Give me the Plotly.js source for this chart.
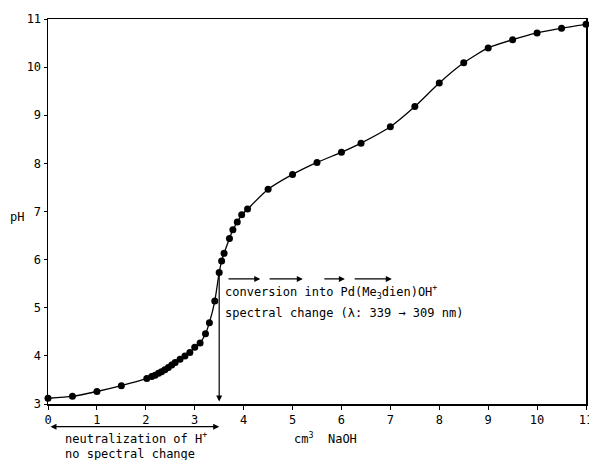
<!DOCTYPE html>
<html>
<head>
<meta charset="utf-8">
<script src="https://cdn.plot.ly/plotly-3.0.1.min.js"></script>
<style>html,body{margin:0;padding:0;background:#fff;}#chart{width:589px;height:460px;}</style>
</head>
<body>
<div id="chart"></div>
<script>
// Titration data: cm3 NaOH added vs pH
const volumeNaOH = [0, 0.5, 1, 1.5, 2.02, 2.12, 2.19, 2.26, 2.32, 2.39, 2.46, 2.53, 2.6, 2.7, 2.8, 2.9, 3.0, 3.11, 3.22, 3.3, 3.41, 3.5, 3.55, 3.6, 3.71, 3.78, 3.87, 3.96, 4.08, 4.5, 5.0, 5.5, 6.0, 6.4, 7.0, 7.5, 8.0, 8.5, 9.0, 9.5, 10.0, 10.5, 11.0];
const pHValues   = [3.12, 3.16, 3.26, 3.38, 3.53, 3.57, 3.6, 3.64, 3.67, 3.71, 3.76, 3.81, 3.86, 3.93, 4.0, 4.07, 4.18, 4.27, 4.46, 4.69, 5.14, 5.73, 5.97, 6.13, 6.44, 6.62, 6.78, 6.93, 7.05, 7.46, 7.77, 8.02, 8.23, 8.42, 8.76, 9.18, 9.67, 10.09, 10.4, 10.57, 10.71, 10.81, 10.89];
const xTicks = [0, 1, 2, 3, 4, 5, 6, 7, 8, 9, 10, 11];
const yTicks = [3, 4, 5, 6, 7, 8, 9, 10, 11];

const FONT = 'DejaVu Sans Mono, monospace';

const trace = {
  x: volumeNaOH, y: pHValues,
  type: 'scatter', mode: 'lines+markers',
  line: {color: '#000', width: 1.3, shape: 'spline', smoothing: 0.6},
  marker: {color: '#000', size: 7},
  cliponaxis: false,
  hoverinfo: 'skip'
};

const dashArrows = [[3.66, 4.34], [4.5, 5.21], [5.62, 6.07], [6.24, 7.03]];
const annotations = [];
dashArrows.forEach(function(d){
  annotations.push({x: d[1], y: 5.6, ax: d[0], ay: 5.6, xref: 'x', yref: 'y', axref: 'x', ayref: 'y',
    text: '', showarrow: true, arrowhead: 2, arrowsize: 1, arrowwidth: 1.2, arrowcolor: '#000'});
});
// vertical arrow at end of neutralization
annotations.push({x: 3.5, y: 3.05, ax: 3.5, ay: 5.75, xref: 'x', yref: 'y', axref: 'x', ayref: 'y',
  text: '', showarrow: true, arrowhead: 2, arrowsize: 1, arrowwidth: 1.2, arrowcolor: '#000'});
// double-headed arrow below axis
annotations.push({x: 3.5, y: -0.059, ax: 0.02, ay: 0, xref: 'x', yref: 'paper', axref: 'x', ayref: 'pixel',
  text: '', showarrow: true, arrowhead: 2, startarrowhead: 2, arrowside: 'end+start', arrowsize: 1, arrowwidth: 1.2, arrowcolor: '#000'});
// texts
annotations.push({x: 3.58, y: 5.33, xref: 'x', yref: 'y', xanchor: 'left', yanchor: 'middle', showarrow: false,
  text: 'conversion into Pd(Me<sub>3</sub>dien)OH<sup>+</sup>', font: {family: FONT, size: 12, color: '#000'}});
annotations.push({x: 3.58, y: 4.9, xref: 'x', yref: 'y', xanchor: 'left', yanchor: 'middle', showarrow: false,
  text: 'spectral change (λ: 339 → 309 nm)', font: {family: FONT, size: 12, color: '#000'}});
annotations.push({x: 0.31, y: -0.088, xref: 'x', yref: 'paper', xanchor: 'left', yanchor: 'middle', showarrow: false,
  text: 'neutralization of H<sup>+</sup>', font: {family: FONT, size: 12, color: '#000'}});
annotations.push({x: 0.31, y: -0.13, xref: 'x', yref: 'paper', xanchor: 'left', yanchor: 'middle', showarrow: false,
  text: 'no spectral change', font: {family: FONT, size: 12, color: '#000'}});
annotations.push({x: 5.68, y: -0.088, xref: 'x', yref: 'paper', xanchor: 'center', yanchor: 'middle', showarrow: false,
  text: 'cm<sup>3</sup>  NaOH', font: {family: FONT, size: 12, color: '#000'}});
annotations.push({x: -0.058, y: 6.89, xref: 'paper', yref: 'y', xanchor: 'center', yanchor: 'middle', showarrow: false,
  text: 'pH', font: {family: FONT, size: 12, color: '#000'}});

const layout = {
  width: 589, height: 460,
  margin: {l: 48, r: 3, t: 19, b: 56, pad: 0},
  paper_bgcolor: '#fff', plot_bgcolor: '#fff',
  showlegend: false,
  font: {family: FONT, size: 12, color: '#000'},
  xaxis: {range: [0, 11], tickvals: xTicks, ticktext: xTicks.map(String), showgrid: false, zeroline: false,
    showline: true, linecolor: '#000', linewidth: 1.5, mirror: true, ticks: 'outside', ticklen: 4, tickcolor: '#000',
    ticklabeloverflow: 'allow', automargin: false,
    tickfont: {family: FONT, size: 12, color: '#000'}},
  yaxis: {range: [3, 11], tickvals: yTicks, ticktext: yTicks.map(String), showgrid: false, zeroline: false,
    showline: true, linecolor: '#000', linewidth: 1.5, mirror: true, ticks: 'outside', ticklen: 3, tickcolor: '#000',
    ticklabeloverflow: 'allow', automargin: false,
    tickfont: {family: FONT, size: 12, color: '#000'}},
  annotations: annotations
};

Plotly.newPlot('chart', [trace], layout, {displayModeBar: false, staticPlot: true});
</script>
</body>
</html>
